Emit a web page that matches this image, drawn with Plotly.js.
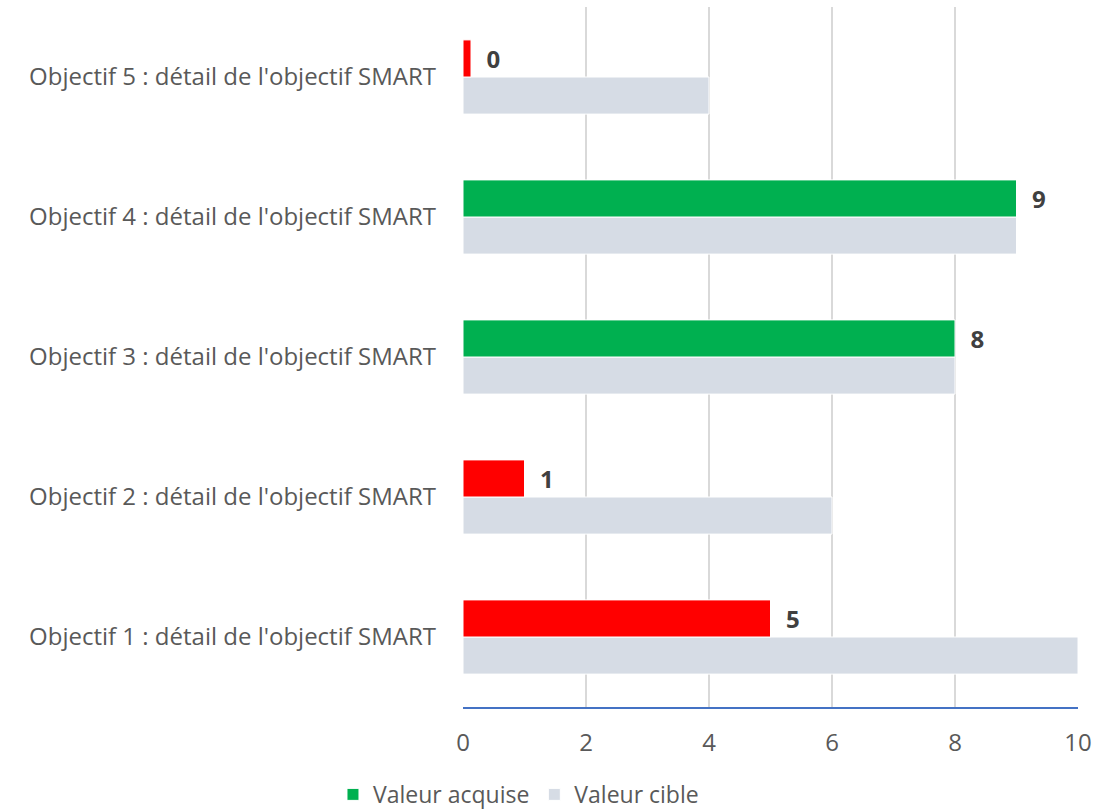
<!DOCTYPE html>
<html>
<head>
<meta charset="utf-8">
<script src="https://cdn.plot.ly/plotly-3.0.1.min.js"></script>
<style>html,body{margin:0;padding:0;background:#fff}#chart{width:1115px;height:809px}</style>
</head>
<body>
<div id="chart"></div>
<script>
var categories = [
  "Objectif 1 : détail de l'objectif SMART",
  "Objectif 2 : détail de l'objectif SMART",
  "Objectif 3 : détail de l'objectif SMART",
  "Objectif 4 : détail de l'objectif SMART",
  "Objectif 5 : détail de l'objectif SMART"
];
var valeurAcquise = [5, 1, 8, 9, 0.13];
var valeurCible = [10, 6, 8, 9, 4];
var xTicks = [0, 2, 4, 6, 8, 10];

var FONT = "'Open Sans', sans-serif";
var achieved = valeurAcquise.map(function(v, i){ return v >= valeurCible[i] ? v : null; });
var missed = valeurAcquise.map(function(v, i){ return v < valeurCible[i] ? v : null; });
var labelTpl = "  %{x:.0f}";
var labelFont = {family: FONT, size: 24, color: "#404040", weight: "bold"};

var traces = [
  {type: "bar", orientation: "h", name: "Valeur cible", y: categories, x: valeurCible,
   offsetgroup: "c", legendrank: 2,
   marker: {color: "#D6DCE5", line: {color: "#ffffff", width: 1}}, hoverinfo: "x+y"},
  {type: "bar", orientation: "h", name: "Valeur acquise", y: categories, x: achieved,
   offsetgroup: "a", legendrank: 1,
   marker: {color: "#00B050", line: {color: "#ffffff", width: 1}},
   texttemplate: labelTpl, textposition: "outside", textfont: labelFont, cliponaxis: false},
  {type: "bar", orientation: "h", name: "Valeur acquise", y: categories, x: missed,
   offsetgroup: "a", showlegend: false,
   marker: {color: "#FF0000", line: {color: "#ffffff", width: 1}},
   texttemplate: labelTpl, textposition: "outside", textfont: labelFont, cliponaxis: false}
];

var layout = {
  width: 1115, height: 809,
  margin: {l: 463, r: 37, t: 7, b: 102, autoexpand: false},
  paper_bgcolor: "#ffffff", plot_bgcolor: "#ffffff",
  font: {family: FONT, size: 24, color: "#595959"},
  barmode: "group", bargap: 0.47, bargroupgap: 0,
  showlegend: true,
  legend: {orientation: "h", xref: "container", yref: "container", x: 0.465, xanchor: "center",
           y: 0.018, yanchor: "middle", font: {family: FONT, size: 23, color: "#595959"},
           itemwidth: 30, tracegroupgap: 0},
  xaxis: {range: [0, 10], tickvals: xTicks, showgrid: true, gridcolor: "#D9D9D9", gridwidth: 1.5,
          zeroline: false, showline: true, linecolor: "#4472C4", linewidth: 1.5, automargin: false,
          ticks: "", ticklabelstandoff: 13, tickfont: {family: FONT, size: 24, color: "#595959"},
          fixedrange: true},
  yaxis: {type: "category", categoryorder: "array", categoryarray: categories, automargin: false,
          showgrid: false, zeroline: false, showline: false, ticks: "", ticklabelstandoff: 26,
          tickfont: {family: FONT, size: 24, color: "#595959"}, fixedrange: true}
};

Plotly.newPlot("chart", traces, layout, {displayModeBar: false, responsive: false});
</script>
</body>
</html>
